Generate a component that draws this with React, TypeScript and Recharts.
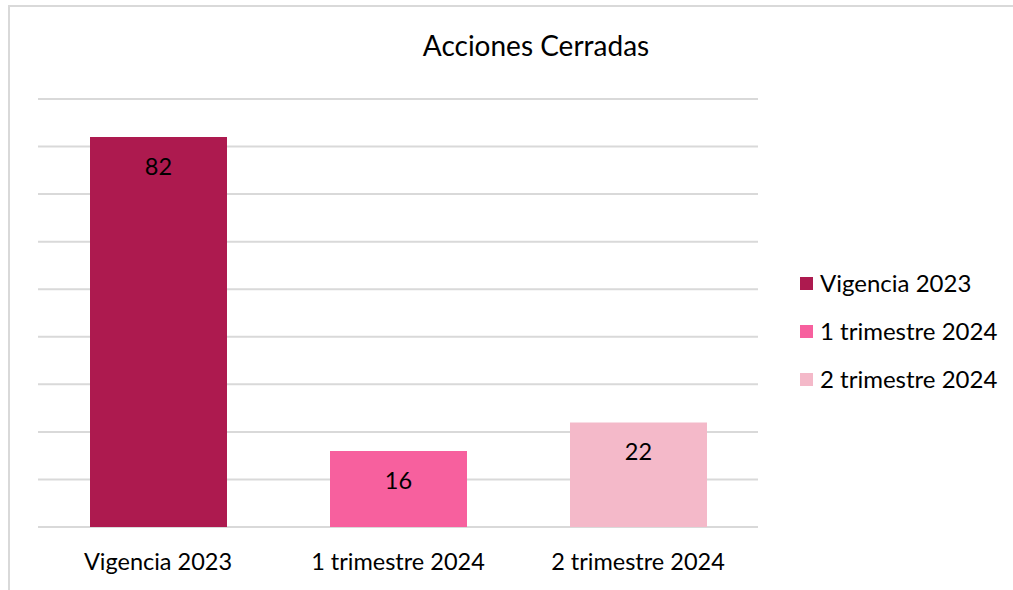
import { BarChart, Bar, Cell, XAxis, YAxis, CartesianGrid, LabelList } from 'recharts';

const categories = ['Vigencia 2023', '1 trimestre 2024', '2 trimestre 2024'];
const values = [82, 16, 22];
const colors = ['#AD1A4F', '#F7609E', '#F4B9C9'];
const yTicks = [0, 10, 20, 30, 40, 50, 60, 70, 80, 90];

const data = categories.map((name, i) => ({ name, value: values[i], fill: colors[i] }));

const FONT = 'Lato, "Open Sans", sans-serif';

export default function App() {
  return (
    <div style={{ position: 'absolute', left: 0, top: 0, width: 1013, height: 590, background: '#fff', fontFamily: FONT }}>
      <div style={{ position: 'absolute', left: 8, top: 5, width: 1010, height: 600, border: '2px solid #d9d9d9' }} />
      <div style={{ position: 'absolute', left: 0, top: 28, width: 1072, textAlign: 'center', fontSize: 28, color: '#000' }}>
        Acciones Cerradas
      </div>
      <BarChart width={1013} height={590} data={data} margin={{ top: 99, right: 255, left: 38, bottom: 33 }} style={{ position: 'absolute', left: 0, top: 0 }}>
        <CartesianGrid vertical={false} horizontalValues={yTicks} stroke="#d9d9d9" strokeWidth={2} />
        <YAxis hide width={0} domain={[0, 90]} ticks={yTicks} />
        <XAxis dataKey="name" height={30} axisLine={false} tickLine={false} tickMargin={20} tick={{ fill: '#000', fontSize: 23.5, fontFamily: FONT }} />
        <Bar dataKey="value" barSize={137} isAnimationActive={false}>
          {data.map((d) => (
            <Cell key={d.name} fill={d.fill} />
          ))}
          <LabelList dataKey="value" position="insideTop" offset={21} fill="#000" fontSize={23.5} fontFamily={FONT} />
        </Bar>
      </BarChart>
      <div style={{ position: 'absolute', left: 800, top: 259 }}>
        {data.map((d) => (
          <div key={d.name} style={{ display: 'flex', alignItems: 'center', height: 48, fontSize: 24 }}>
            <span style={{ width: 13, height: 13, background: d.fill, marginRight: 7, display: 'inline-block' }} />
            <span style={{ lineHeight: '32px' }}>{d.name}</span>
          </div>
        ))}
      </div>
    </div>
  );
}
